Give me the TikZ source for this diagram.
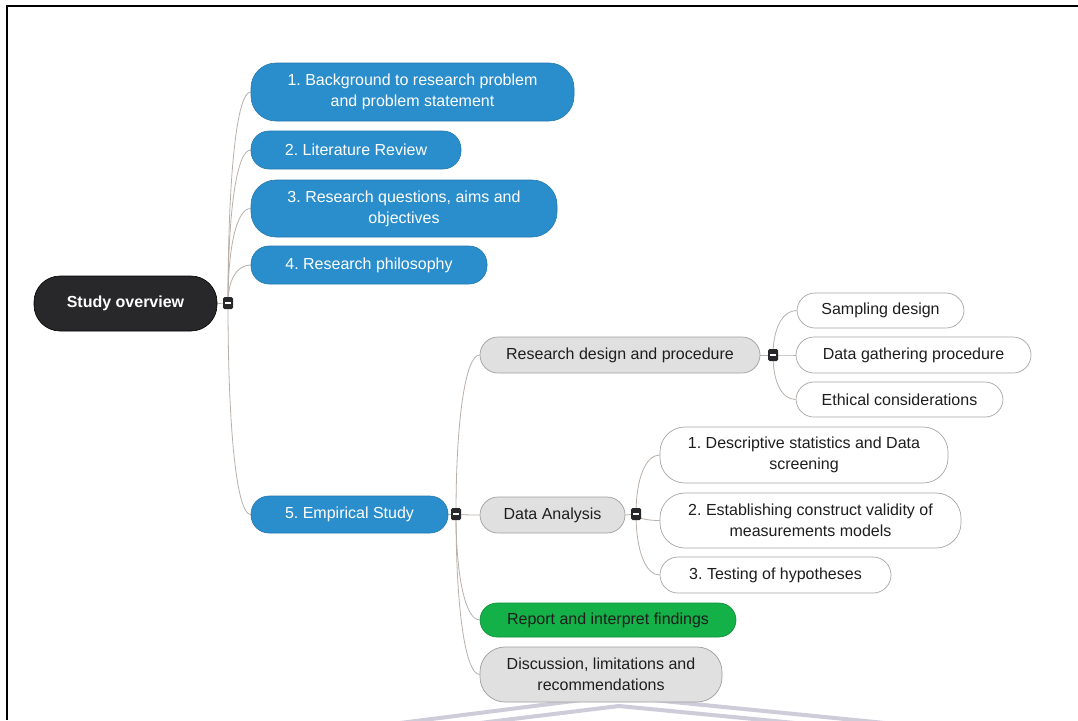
\documentclass[tikz,border=0pt]{standalone}
\usepackage{fontspec}
\setmainfont{Liberation Sans}
\usetikzlibrary{calc,backgrounds}
\frenchspacing

\definecolor{topicblue}{RGB}{42,142,204}
\definecolor{hubblack}{RGB}{40,40,42}
\definecolor{subgrey}{RGB}{224,224,224}
\definecolor{findgreen}{RGB}{20,176,72}
\definecolor{linkc}{RGB}{185,176,170}
\definecolor{markc}{RGB}{165,163,185}
\definecolor{textdark}{RGB}{30,30,30}

\begin{document}
\begin{tikzpicture}[x=1pt,y=-1pt,
  every node/.style={font=\fontsize{16}{21}\selectfont, inner sep=2pt, align=center},
  hub/.style={rectangle, rounded corners=26pt, fill=hubblack, draw=black, line width=0.6pt, text=white},
  topic/.style={rectangle, rounded corners=18pt, fill=topicblue, draw=topicblue!85!black, line width=0.6pt, text=white},
  sub/.style={rectangle, rounded corners=18pt, fill=subgrey, draw=gray!75, line width=0.7pt, text=textdark},
  subgreen/.style={rectangle, rounded corners=17pt, fill=findgreen, draw=findgreen!80!black, line width=0.6pt, text=textdark},
  leaf/.style={rectangle, rounded corners=18pt, fill=white, draw=gray!70, line width=0.7pt, text=textdark},
  tall/.style={rounded corners=25pt},
  minusbox/.style={rectangle, rounded corners=1.5pt, fill=hubblack, minimum width=10pt, minimum height=12pt, inner sep=0pt},
  link/.style={draw=linkc, line width=0.8pt,
    to path={.. controls ($(\tikztostart)!0.6!(\tikztostart |- \tikztotarget)$) and ($(\tikztotarget)+(-14,0)$) .. (\tikztotarget)}},
  roofline/.style={draw=markc, line width=4pt, opacity=0.55, line join=miter}
]
\useasboundingbox (0,0) rectangle (1078,720);

% central topic
\node[hub, minimum width=183, minimum height=55] (so) at (125.5,303.5) {\bfseries Study overview};

% main topics
\node[topic, tall, minimum width=323, minimum height=58] (b1) at (412.5,92) {1. Background to research problem\\and problem statement};
\node[topic, minimum width=210, minimum height=38] (b2) at (356,150) {2. Literature Review};
\node[topic, tall, minimum width=306, minimum height=57] (b3) at (404,208.5) {3. Research questions, aims and\\objectives};
\node[topic, minimum width=236, minimum height=38] (b4) at (369,265) {4. Research philosophy};
\node[topic, minimum width=197, minimum height=37] (b5) at (349.5,514.5) {5. Empirical Study};

% empirical study subtopics
\node[sub, minimum width=280, minimum height=36] (rd) at (620,355) {Research design and procedure};
\node[sub, minimum width=145, minimum height=36] (da) at (552.5,515) {Data Analysis};
\node[subgreen, minimum width=256, minimum height=34] (rf) at (608,620) {Report and interpret findings};
\node[sub, tall, minimum width=242, minimum height=55] (dl) at (601,674.5) {Discussion, limitations and\\recommendations};

% research design details
\node[leaf, minimum width=167, minimum height=35] (sd) at (880.5,310.5) {Sampling design};
\node[leaf, minimum width=235, minimum height=36] (dg) at (913.5,355) {Data gathering procedure};
\node[leaf, minimum width=207, minimum height=35] (ec) at (899.5,399.5) {Ethical considerations};

% data analysis details
\node[leaf, tall, minimum width=288, minimum height=56] (d1) at (804,455) {1. Descriptive statistics and Data\\screening};
\node[leaf, tall, minimum width=301, minimum height=55] (d2) at (810.5,520.5) {2. Establishing construct validity of\\measurements models};
\node[leaf, minimum width=231, minimum height=36] (d3) at (775.5,575) {3. Testing of hypotheses};

% collapse handles
\node[minusbox] (m0) at (228,303) {\color{white}\rule[-1.2pt]{6pt}{2.4pt}};
\node[minusbox] (m5) at (456,514) {\color{white}\rule[-1.2pt]{6pt}{2.4pt}};
\node[minusbox] (mrd) at (773,355) {\color{white}\rule[-1.2pt]{6pt}{2.4pt}};
\node[minusbox] (mda) at (636,514) {\color{white}\rule[-1.2pt]{6pt}{2.4pt}};

\begin{pgfonlayer}{background}
  \fill[white] (0,0) rectangle (1078,720);
  % frame
  \draw[line width=2pt] (7,720) -- (7,6) -- (1078,6);
  % faint roof mark along the bottom edge
  \draw[roofline] (400,723) -- (613,696) -- (885,723);
  \draw[roofline] (480,723) -- (619,706) -- (795,723);

  % branches
  \draw[link] (so.east) -- (m0.center);
  \foreach \c in {b1,b2,b3,b4,b5} \draw[link] (m0.center) to (\c.west);
  \draw[link] (b5.east) -- (m5.center);
  \foreach \c in {rd,da,rf,dl} \draw[link] (m5.center) to (\c.west);
  \draw[link] (rd.east) -- (mrd.center);
  \foreach \c in {sd,dg,ec} \draw[link] (mrd.center) to (\c.west);
  \draw[link] (da.east) -- (mda.center);
  \foreach \c in {d1,d2,d3} \draw[link] (mda.center) to (\c.west);
\end{pgfonlayer}
\end{tikzpicture}
\end{document}
